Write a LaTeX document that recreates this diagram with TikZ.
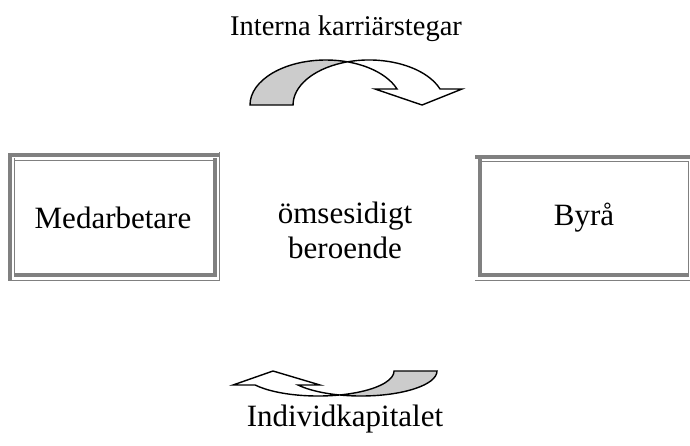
\documentclass[tikz,border=0pt]{standalone}
\usepackage{fontspec}
\setmainfont{Liberation Serif}
\begin{document}
\begin{tikzpicture}[x=1pt,y=1pt,
  lbl/.style={font=\fontsize{31}{35}\selectfont, inner sep=0pt, align=center},
  frm/.style={fill=black!50, draw=none},
  frmline/.style={draw=black!50, line width=1.2pt},
  band/.style={draw=black, line width=1.4pt, line join=miter},
  shade/.style={fill=black!20}]
\useasboundingbox (0,0) rectangle (690,-445);

% --- left box (Medarbetare), bevelled double frame
\fill[frm] (8,-153) rectangle (12,-281);
\fill[frm] (12,-153) rectangle (220,-157);
\draw[frmline] (219.5,-152) -- (219.5,-281);
\draw[frmline] (12,-280.5) -- (220,-280.5);
\draw[frmline] (14.2,-158) -- (14.2,-277);
\draw[frmline] (14.2,-160.5) -- (213,-160.5);
\fill[frm] (213,-158) rectangle (217,-277);
\fill[frm] (14,-273) rectangle (217,-277);

% --- right box (Byrå)
\fill[frm] (475,-155) rectangle (690,-159);
\fill[frm] (478,-159) rectangle (482,-277);
\draw[frmline] (482,-161.5) -- (688.5,-161.5);
\draw[frmline] (688.5,-161) -- (688.5,-277);
\fill[frm] (478,-273) rectangle (688,-277);
\draw[frmline] (475,-280.5) -- (690,-280.5);

% --- text
\node[lbl, font=\fontsize{28.5}{33}\selectfont] (top) at (346,-29) {Interna karriärstegar};
\node[lbl] (med) at (113,-218) {Medarbetare};
\node[lbl] (mid) at (345,-230) {ömsesidigt\\beroende};
\node[lbl] (byra) at (584,-218) {Byrå};
\node[lbl] (bot) at (345,-419) {Individkapitalet};

% --- upper curved arrow: shaded back part, white front part, outline
\fill[shade] (250,-105) arc[start angle=180, end angle=73.6, x radius=76, y radius=45]
  arc[start angle=106.4, end angle=180, x radius=76, y radius=45] -- cycle;
\fill[white] (347.5,-61.8) arc[start angle=106.4, end angle=20.8, x radius=76, y radius=45]
  -- (462,-89) -- (422,-105) -- (375,-89) -- (397.1,-89)
  arc[start angle=20.8, end angle=73.6, x radius=76, y radius=45] -- cycle;
\draw[band] (250,-105) arc[start angle=180, end angle=20.8, x radius=76, y radius=45]
  -- (375,-89) -- (422,-105) -- (462,-89) -- (440.1,-89)
  arc[start angle=20.8, end angle=180, x radius=76, y radius=45] -- cycle;

% --- lower curved arrow (flatter, pointing up-left)
\fill[shade] (437,-371) arc[start angle=360, end angle=253.6, x radius=76, y radius=25]
  arc[start angle=286.4, end angle=360, x radius=76, y radius=25] -- cycle;
\fill[white] (339.5,-395) arc[start angle=286.4, end angle=214.06, x radius=76, y radius=25]
  -- (233,-385) -- (273,-371) -- (320,-385) -- (298.1,-385)
  arc[start angle=214.06, end angle=253.6, x radius=76, y radius=25] -- cycle;
\draw[band] (437,-371) arc[start angle=360, end angle=214.06, x radius=76, y radius=25]
  -- (320,-385) -- (273,-371) -- (233,-385) -- (255.1,-385)
  arc[start angle=214.06, end angle=360, x radius=76, y radius=25] -- cycle;
\end{tikzpicture}
\end{document}
